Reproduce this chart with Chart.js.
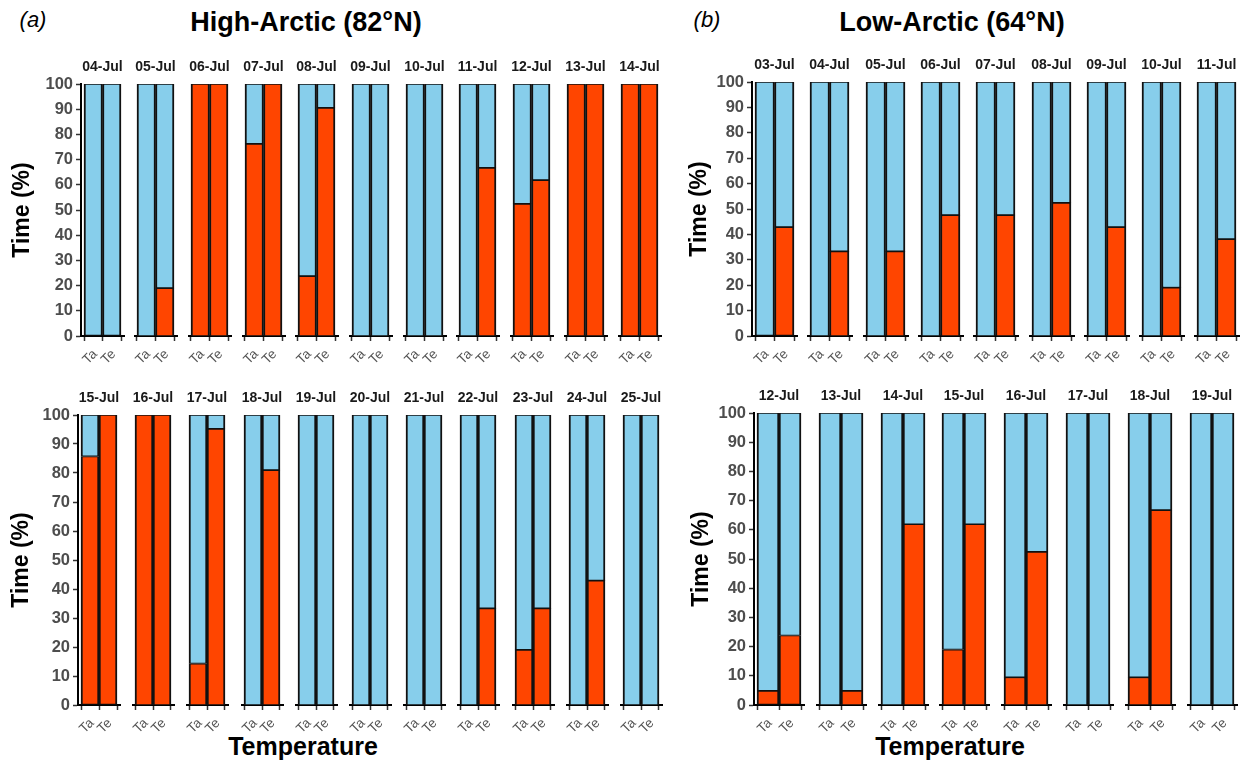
<!DOCTYPE html>
<html><head><meta charset="utf-8">
<script src="https://cdn.jsdelivr.net/npm/chart.js@4"></script>
<style>
html,body{margin:0;padding:0;background:#fff}
body{width:1242px;height:767px;overflow:hidden;position:relative;font-family:'Liberation Sans',Arial,sans-serif}
.lbl{position:absolute;white-space:nowrap;color:#000;line-height:1;transform:translate(-50%,-50%)}
.facet{position:absolute}
canvas{display:block}
</style></head><body>
<div class="lbl" style="left:33px;top:20px;font-size:22px;font-style:italic">(a)</div>
<div class="lbl" style="left:306px;top:22px;font-size:27px;font-weight:bold">High-Arctic (82°N)</div>
<div class="lbl" style="left:707px;top:20px;font-size:22px;font-style:italic">(b)</div>
<div class="lbl" style="left:952px;top:22px;font-size:27px;font-weight:bold">Low-Arctic (64°N)</div>
<div class="lbl" style="left:303px;top:746px;font-size:25px;font-weight:bold">Temperature</div>
<div class="lbl" style="left:950px;top:746px;font-size:25px;font-weight:bold">Temperature</div>
<script>
// ---------- data ----------
const tempLabels = ['Ta', 'Te'];

const haTopDays   = ['04-Jul','05-Jul','06-Jul','07-Jul','08-Jul','09-Jul','10-Jul','11-Jul','12-Jul','13-Jul','14-Jul'];
const haTopTaWarm = [0, 0, 100, 76.2, 23.8, 0, 0, 0, 52.4, 100, 100];
const haTopTeWarm = [0, 19.0, 100, 100, 90.5, 0, 0, 66.7, 61.9, 100, 100];
const haTopTaCold = [100, 100, 0, 23.8, 76.2, 100, 100, 100, 47.6, 0, 0];
const haTopTeCold = [100, 81.0, 0, 0, 9.5, 100, 100, 33.3, 38.1, 0, 0];

const haBotDays   = ['15-Jul','16-Jul','17-Jul','18-Jul','19-Jul','20-Jul','21-Jul','22-Jul','23-Jul','24-Jul','25-Jul'];
const haBotTaWarm = [85.7, 100, 14.3, 0, 0, 0, 0, 0, 19.0, 0, 0];
const haBotTeWarm = [100, 100, 95.2, 81.0, 0, 0, 0, 33.3, 33.3, 42.9, 0];
const haBotTaCold = [14.3, 0, 85.7, 100, 100, 100, 100, 100, 81.0, 100, 100];
const haBotTeCold = [0, 0, 4.8, 19.0, 100, 100, 100, 66.7, 66.7, 57.1, 100];

const laTopDays   = ['03-Jul','04-Jul','05-Jul','06-Jul','07-Jul','08-Jul','09-Jul','10-Jul','11-Jul'];
const laTopTaWarm = [0, 0, 0, 0, 0, 0, 0, 0, 0];
const laTopTeWarm = [42.9, 33.3, 33.3, 47.6, 47.6, 52.4, 42.9, 19.0, 38.1];
const laTopTaCold = [100, 100, 100, 100, 100, 100, 100, 100, 100];
const laTopTeCold = [57.1, 66.7, 66.7, 52.4, 52.4, 47.6, 57.1, 81.0, 61.9];

const laBotDays   = ['12-Jul','13-Jul','14-Jul','15-Jul','16-Jul','17-Jul','18-Jul','19-Jul'];
const laBotTaWarm = [4.8, 0, 0, 19.0, 9.5, 0, 9.5, 0];
const laBotTeWarm = [23.8, 4.8, 61.9, 61.9, 52.4, 0, 66.7, 0];
const laBotTaCold = [95.2, 100, 100, 81.0, 90.5, 100, 90.5, 100];
const laBotTeCold = [76.2, 95.2, 38.1, 38.1, 47.6, 100, 33.3, 100];

// ---------- style / layout ----------
const FONT = "'Liberation Sans', Arial, sans-serif";
const RED = '#FF4500', BLUE = '#87CEEB';
const GAP = 3;
const rows = [
  {days: haTopDays, taW: haTopTaWarm, teW: haTopTeWarm, taC: haTopTaCold, teC: haTopTeCold,
   x0: 83.5, step: 53.7, barW: 37, top: 84, bottom: 336, yW: 72},
  {days: haBotDays, taW: haBotTaWarm, teW: haBotTeWarm, taC: haBotTaCold, teC: haBotTeCold,
   x0: 81, step: 54.2, barW: 36, top: 415, bottom: 705, yW: 70},
  {days: laTopDays, taW: laTopTaWarm, teW: laTopTeWarm, taC: laTopTaCold, teC: laTopTeCold,
   x0: 755, step: 55.3, barW: 39, top: 82, bottom: 336, yW: 66},
  {days: laBotDays, taW: laBotTaWarm, teW: laBotTeWarm, taC: laBotTaCold, teC: laBotTeCold,
   x0: 757, step: 61.8, barW: 44, top: 413, bottom: 705, yW: 66}
];

// facet strip label (date) above each panel
const stripPlugin = {
  id: 'strip',
  afterDraw(chart, args, opts) {
    const ca = chart.chartArea, ctx = chart.ctx;
    ctx.save();
    ctx.font = 'bold 14px ' + FONT;
    ctx.fillStyle = '#1a1a1a';
    ctx.textAlign = 'center';
    ctx.textBaseline = 'middle';
    ctx.fillText(opts.text, (ca.left + ca.right) / 2, ca.top - opts.offset);
    ctx.restore();
  }
};

// 45-degree x tick labels (Ta / Te), ending at the tick like ggplot's hjust = 1
const rotTickPlugin = {
  id: 'rotTicks',
  afterDraw(chart) {
    const xs = chart.scales.x, ca = chart.chartArea, ctx = chart.ctx;
    ctx.save();
    ctx.font = '13.5px ' + FONT;
    ctx.fillStyle = '#555';
    ctx.textAlign = 'right';
    ctx.textBaseline = 'middle';
    xs.ticks.forEach(t => {
      const x = xs.getPixelForValue(t.value);
      ctx.save();
      ctx.translate(x + 2, ca.bottom + 16);
      ctx.rotate(-Math.PI / 4);
      ctx.fillText(tempLabels[t.value], 0, 0);
      ctx.restore();
    });
    ctx.restore();
  }
};

const nz = v => (v === 0 ? null : v);

function facet(row, i) {
  const first = i === 0;
  const plotW = Math.round(row.barW + 2 * GAP);
  const plotH = Math.round(row.bottom - row.top);
  const yW = first ? row.yW : 0;
  const PT = 32, PB = 46, PR = 14;
  const W = yW + plotW + PR, H = PT + plotH + PB;
  const div = document.createElement('div');
  div.className = 'facet';
  const cv = document.createElement('canvas');
  cv.width = W; cv.height = H;
  cv.style.width = W + 'px'; cv.style.height = H + 'px';
  div.appendChild(cv);
  document.body.appendChild(div);
  const unit = row.barW / 2;
  const padU = GAP / unit;
  const bw = {left: 2, right: 2, top: 1.2, bottom: 1.2};
  const chart = new Chart(cv, {
    type: 'bar',
    data: {
      datasets: [
        {data: [{x: 0, y: nz(row.taW[i])}, {x: 1, y: nz(row.teW[i])}], backgroundColor: RED},
        {data: [{x: 0, y: nz(row.taC[i])}, {x: 1, y: nz(row.teC[i])}], backgroundColor: BLUE}
      ]
    },
    options: {
      responsive: false, animation: false, devicePixelRatio: 1,
      layout: {padding: {top: PT, right: PR, left: 0, bottom: 0}},
      plugins: {legend: {display: false}, tooltip: {enabled: false}, strip: {text: row.days[i], offset: 17}},
      datasets: {bar: {barPercentage: 1, categoryPercentage: 1, borderColor: '#111', borderWidth: bw, borderSkipped: false}},
      scales: {
        x: {
          type: 'linear', min: -0.5 - padU, max: 1.5 + padU, stacked: true, offset: false,
          afterBuildTicks: s => { s.ticks = [{value: 0}, {value: 1}]; },
          afterFit: s => { s.height = PB; s.paddingLeft = 0; s.paddingRight = 0; },
          ticks: {display: false},
          grid: {display: true, drawOnChartArea: false, drawTicks: true, tickLength: 5, tickWidth: 1.5, color: '#333'},
          border: {display: true, color: '#000', width: 2}
        },
        y: {
          display: first, min: 0, max: 100, stacked: true,
          afterFit: s => { s.width = yW; },
          ticks: {stepSize: 10, color: '#4d4d4d', font: {size: 16.5, weight: 'bold', family: FONT}, padding: 3},
          grid: {drawOnChartArea: false, tickLength: 5, tickWidth: 1.5, color: '#333'},
          border: {display: true, color: '#000', width: 2},
          title: {display: true, text: 'Time (%)', color: '#000', font: {size: 23, weight: 'bold', family: FONT}, padding: 0}
        }
      }
    },
    plugins: [stripPlugin, rotTickPlugin]
  });
  let ca = chart.chartArea;
  const dw = Math.round(plotW - (ca.right - ca.left));
  const dh = Math.round(plotH - (ca.bottom - ca.top));
  if (dw !== 0 || dh !== 0) {
    chart.resize(W + dw, H + dh);
    ca = chart.chartArea;
  }
  div.style.left = Math.round(row.x0 + i * row.step - GAP - ca.left) + 'px';
  div.style.top = Math.round(row.top - ca.top) + 'px';
}

rows.forEach(row => row.days.forEach((d, i) => facet(row, i)));
</script>
</body></html>
